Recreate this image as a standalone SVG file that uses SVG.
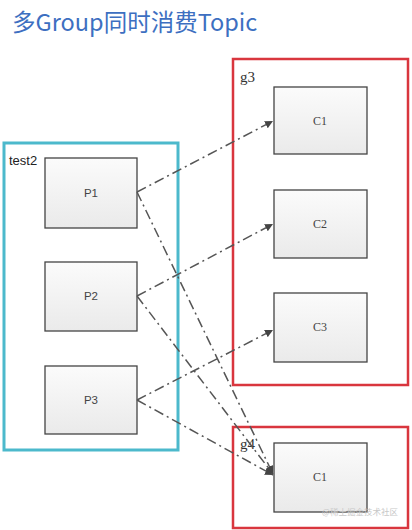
<svg xmlns="http://www.w3.org/2000/svg" width="412" height="530" viewBox="0 0 412 530">
<style>
.title{font-family:"Noto Sans CJK SC","Noto Sans",sans-serif;font-size:23.5px;fill:#3d6fc1}
.grp-t{fill:none;stroke:#4cb9cc;stroke-width:3}
.grp-g{fill:none;stroke:#d9363e;stroke-width:2.5}
.lbl{font-family:"Liberation Sans",sans-serif;font-size:13px;fill:#222}
.glbl{font-family:"Liberation Serif",serif;font-size:15px;fill:#333}
.box{fill:url(#bg);stroke:#444;stroke-width:1.3}
.ptxt{font-family:"Liberation Sans",sans-serif;font-size:11.5px;fill:#444;text-anchor:middle}
.ctxt{font-family:"Liberation Serif",serif;font-size:12px;fill:#444;text-anchor:middle}
.conn{fill:none;stroke:#555;stroke-width:1.5;stroke-dasharray:10 4 2 4;marker-end:url(#arr)}
.wm{font-family:"Noto Sans CJK SC",sans-serif;font-size:8.5px;fill:#c8c8c8}
</style>
<defs>
<linearGradient id="bg" x1="0" y1="0" x2="0" y2="1">
<stop offset="0" stop-color="#fbfbfb"/>
<stop offset="1" stop-color="#eaeaea"/>
</linearGradient>
<marker id="arr" viewBox="0 0 10 10" refX="10" refY="5" markerWidth="8" markerHeight="8" markerUnits="userSpaceOnUse" orient="auto">
<path d="M0,0 L10,5 L0,10 z" fill="#444"/>
</marker>
</defs>
<rect width="412" height="530" fill="#ffffff"/>
<text class="title" x="12" y="31">多Group同时消费Topic</text>

<g id="test2">
<rect class="grp-t" x="4" y="143" width="174" height="307"/>
<text class="lbl" x="9" y="165">test2</text>
</g>
<g id="g3">
<rect class="grp-g" x="233" y="59" width="175" height="326"/>
<text class="glbl" x="240" y="82">g3</text>
</g>
<g id="g4">
<rect class="grp-g" x="233" y="427" width="175" height="101"/>
<text class="glbl" x="240" y="449">g4</text>
</g>

<g id="P1"><rect class="box" x="45" y="158" width="92" height="70"/><text class="ptxt" x="91" y="197">P1</text></g>
<g id="P2"><rect class="box" x="45" y="262" width="92" height="69"/><text class="ptxt" x="91" y="300">P2</text></g>
<g id="P3"><rect class="box" x="45" y="366" width="92" height="68"/><text class="ptxt" x="91" y="404">P3</text></g>

<g id="g3C1"><rect class="box" x="274" y="87" width="93" height="67"/><text class="ctxt" x="320" y="125">C1</text></g>
<g id="g3C2"><rect class="box" x="274" y="190" width="93" height="68"/><text class="ctxt" x="320" y="228">C2</text></g>
<g id="g3C3"><rect class="box" x="274" y="293" width="93" height="69"/><text class="ctxt" x="320" y="331">C3</text></g>
<g id="g4C1"><rect class="box" x="274" y="443" width="93" height="69"/><text class="ctxt" x="320" y="481">C1</text></g>

<g id="connectors">
<path class="conn" d="M137,192 L273,121"/>
<path class="conn" d="M137,192 L273,474"/>
<path class="conn" d="M137,296 L273,224"/>
<path class="conn" d="M137,296 L273,474"/>
<path class="conn" d="M137,400 L273,330"/>
<path class="conn" d="M137,400 L273,475"/>
</g>
<text class="wm" x="322" y="515">@稀土掘金技术社区</text>
</svg>
